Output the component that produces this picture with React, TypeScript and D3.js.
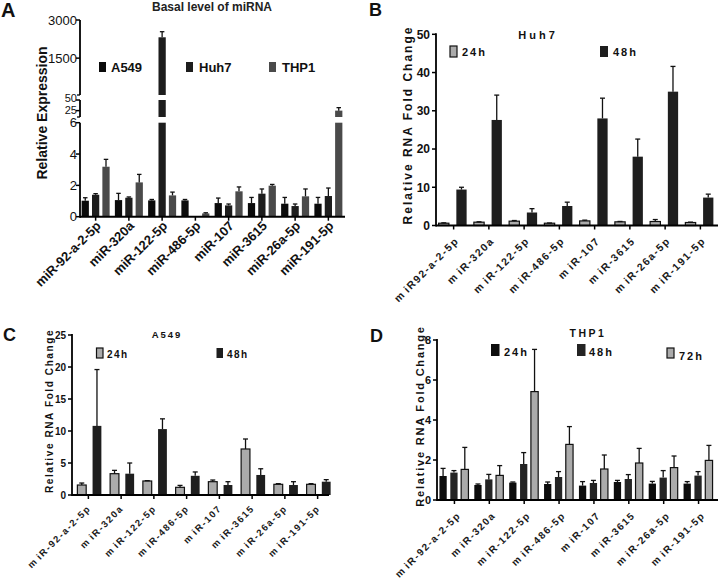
import React from 'react';
import * as d3 from 'd3';

const FONT = '"Liberation Sans", Arial, Helvetica, sans-serif';

// ---------- Panel A: basal level ----------
const basalCategories = ['miR-92-a-2-5p', 'miR-320a', 'miR-122-5p', 'miR-486-5p', 'miR-107', 'miR-3615', 'miR-26a-5p', 'miR-191-5p'];
const basalSeriesNames = ['A549', 'Huh7', 'THP1'];
const basalA549 = [1.02, 1.06, 1.04, 1.04, 0.87, 0.87, 0.83, 0.83];
const basalA549Err = [0.19, 0.43, 0.06, 0.06, 0.32, 0.36, 0.4, 0.4];
const basalHuh7 = [1.4, 1.21, 2320, 0.02, 0.72, 1.47, 0.68, 1.32];
const basalHuh7Err = [0.07, 0.05, 220, 0, 0.09, 0.3, 0.13, 0.51];
const basalTHP1 = [3.19, 2.19, 1.36, 0.21, 1.62, 1.98, 1.3, 25];
const basalTHP1Err = [0.47, 0.51, 0.21, 0.04, 0.28, 0.08, 0.47, 7];
const basalTicksLow = [0, 2, 4, 6];
const basalTicksMid = [25, 50];
const basalTicksTop = [1500, 3000];
const basalDomLow = [0, 6];
const basalDomMid = [10, 50];
const basalDomTop = [50, 3000];

// ---------- Panel B: Huh7 ----------
const huh7Categories = ['m iR92-a-2-5p', 'm iR-320a', 'm iR-122-5p', 'm iR-486-5p', 'm iR-107', 'm iR-3615', 'm iR-26a-5p', 'm iR-191-5p'];
const huh7Series = ['24h', '48h'];
const huh7H24 = [0.6, 0.87, 1.13, 0.6, 1.2, 0.96, 1.04, 0.78];
const huh7H24Err = [0.1, 0.1, 0.17, 0.05, 0.2, 0.1, 0.52, 0.1];
const huh7H48 = [9.4, 27.6, 3.4, 5.1, 28.0, 18.0, 35.0, 7.3];
const huh7H48Err = [0.6, 6.5, 1.0, 1.0, 5.3, 4.6, 6.6, 0.9];
const huh7Ticks = [0, 10, 20, 30, 40, 50];

// ---------- Panel C: A549 ----------
const a549Categories = ['m iR-92-a-2-5p', 'm iR-320a', 'm iR-122-5p', 'm iR-486-5p', 'm iR-107', 'm iR-3615', 'm iR-26a-5p', 'm iR-191-5p'];
const a549Series = ['24h', '48h'];
const a549H24 = [1.56, 3.33, 2.19, 1.2, 2.08, 7.19, 1.67, 1.67];
const a549H24Err = [0.31, 0.52, 0.05, 0.3, 0.26, 1.56, 0.1, 0.1];
const a549H48 = [10.8, 3.33, 10.3, 3.0, 1.56, 3.13, 1.56, 2.08];
const a549H48Err = [8.8, 1.67, 1.6, 0.6, 0.52, 0.97, 0.52, 0.32];
const a549Ticks = [0, 5, 10, 15, 20, 25];

// ---------- Panel D: THP1 ----------
const thp1Categories = ['m iR-92-a-2-5p', 'm iR-320a', 'm iR-122-5p', 'm iR-486-5p', 'm iR-107', 'm iR-3615', 'm iR-26a-5p', 'm iR-191-5p'];
const thp1Series = ['24h', '48h', '72h'];
const thp1H24 = [1.2, 0.75, 0.87, 0.8, 0.72, 0.9, 0.82, 0.82];
const thp1H24Err = [0.38, 0.05, 0.03, 0.1, 0.2, 0.08, 0.11, 0.1];
const thp1H48 = [1.37, 1.03, 1.8, 1.15, 0.85, 1.05, 1.12, 1.22];
const thp1H48Err = [0.1, 0.25, 0.57, 0.27, 0.13, 0.22, 0.35, 0.2];
const thp1H72 = [1.53, 1.23, 5.42, 2.78, 1.55, 1.85, 1.62, 1.98];
const thp1H72Err = [1.1, 0.49, 2.11, 0.89, 0.7, 0.73, 0.58, 0.75];
const thp1Ticks = [0, 2, 4, 6, 8];

type Series = { name: string; values: number[]; errs: number[]; fill: string; stroke?: string };

function ErrorBar({ x, y0, y1, cap = 5 }: { x: number; y0: number; y1: number; cap?: number }) {
  return (
    <g stroke="#111" strokeWidth={1.3}>
      <line x1={x} x2={x} y1={y0} y2={y1} />
      <line x1={x - cap / 2} x2={x + cap / 2} y1={y1} y2={y1} />
    </g>
  );
}

type GroupedProps = {
  cats: string[];
  series: Series[];
  xRange: [number, number];
  axisEnd: number;
  yDomain: [number, number];
  yRange: [number, number];
  ticks: number[];
  subRange: [number, number];
  subPadding: number;
  tickFont: number;
  labelFont: number;
  labelSpacing: number;
  labelDx: number;
  labelDy: number;
};

function GroupedPanel(p: GroupedProps) {
  const x = d3.scaleBand<string>().domain(p.cats).range(p.xRange);
  const sub = d3.scaleBand<string>().domain(p.series.map((s) => s.name)).range(p.subRange).paddingInner(p.subPadding);
  const y = d3.scaleLinear().domain(p.yDomain).range(p.yRange);
  const ax = p.xRange[0];
  const y0 = y(0);
  return (
    <g fontFamily={FONT}>
      {p.cats.map((c, i) => {
        const cx = (x(c) as number) + x.bandwidth() / 2;
        return (
          <g key={c}>
            {p.series.map((s) => {
              const bx = cx + (sub(s.name) as number);
              const v = s.values[i];
              return (
                <g key={s.name}>
                  <rect x={bx} y={y(v)} width={sub.bandwidth()} height={Math.max(0.5, y0 - y(v))} fill={s.fill}
                    stroke={s.stroke || 'none'} strokeWidth={s.stroke ? 1.2 : 0} />
                  <ErrorBar x={bx + sub.bandwidth() / 2} y0={y(v)} y1={y(v + s.errs[i])} />
                </g>
              );
            })}
            <line x1={cx} x2={cx} y1={y0} y2={y0 + 4} stroke="#000" strokeWidth={1.5} />
            <text transform={`translate(${cx + p.labelDx},${y0 + p.labelDy}) rotate(-45)`} textAnchor="end"
              fontSize={p.labelFont} fontWeight="bold" letterSpacing={p.labelSpacing} wordSpacing={-1.8} fill="#1a1a1a">{c}</text>
          </g>
        );
      })}
      <line x1={ax} x2={ax} y1={y0 + 1} y2={p.yRange[1] - 1} stroke="#000" strokeWidth={1.8} />
      <line x1={ax} x2={p.axisEnd} y1={y0} y2={y0} stroke="#000" strokeWidth={2} />
      {p.ticks.map((t) => (
        <g key={t}>
          <line x1={ax - 4} x2={ax} y1={y(t)} y2={y(t)} stroke="#000" strokeWidth={1.5} />
          <text x={ax - 6} y={y(t)} dy="0.36em" textAnchor="end" fontSize={p.tickFont} fontWeight="bold" fill="#111">{t}</text>
        </g>
      ))}
    </g>
  );
}

function LegendItem({ x, y, w, h, fill, stroke, label, tx, ty, size, spacing }: any) {
  return (
    <g fontFamily={FONT}>
      <rect x={x} y={y} width={w} height={h} fill={fill} stroke={stroke || 'none'} strokeWidth={stroke ? 1.2 : 0} />
      <text x={tx} y={ty} fontSize={size} fontWeight="bold" letterSpacing={spacing} fill="#111">{label}</text>
    </g>
  );
}

function BasalPanel() {
  const x = d3.scaleBand<string>().domain(basalCategories).range([79, 345]);
  const sub = d3.scaleBand<string>().domain(basalSeriesNames).range([-14, 14]).paddingInner(0.3);
  const segs = [
    { scale: d3.scaleLinear().domain(basalDomLow).range([216.7, 122.7]), ticks: basalTicksLow },
    { scale: d3.scaleLinear().domain(basalDomMid).range([117, 100]), ticks: basalTicksMid },
    { scale: d3.scaleLinear().domain(basalDomTop).range([95, 20]), ticks: basalTicksTop },
  ];
  const series = [
    { name: 'A549', values: basalA549, errs: basalA549Err, fill: '#0b0b0b' },
    { name: 'Huh7', values: basalHuh7, errs: basalHuh7Err, fill: '#1d1d1d' },
    { name: 'THP1', values: basalTHP1, errs: basalTHP1Err, fill: '#4a4a4a' },
  ];
  const ax = 80;
  const y0 = segs[0].scale(0);
  return (
    <g fontFamily={FONT}>
      {basalCategories.map((c, i) => {
        const cx = (x(c) as number) + x.bandwidth() / 2;
        return (
          <g key={c}>
            {series.map((s) => {
              const bx = cx + (sub(s.name) as number);
              const v = s.values[i];
              const top = v + s.errs[i];
              const rects = segs.map((sg, k) => {
                const [lo, hi] = sg.scale.domain();
                if (v <= lo && k > 0) return null;
                const yt = sg.scale(Math.min(v, hi));
                const yb = sg.scale(lo);
                return <rect key={k} x={bx} y={yt} width={sub.bandwidth()} height={Math.max(0.6, yb - yt)} fill={s.fill} />;
              });
              const seg = segs.find((sg) => top <= sg.scale.domain()[1]) || segs[2];
              return (
                <g key={s.name}>
                  {rects}
                  {s.errs[i] > 0 && <ErrorBar x={bx + sub.bandwidth() / 2} y0={seg.scale(v)} y1={seg.scale(top)} cap={4.5} />}
                </g>
              );
            })}
            <line x1={cx} x2={cx} y1={y0} y2={y0 + 4} stroke="#000" strokeWidth={1.5} />
            <text transform={`translate(${cx + 6},${y0 + 10}) rotate(-45)`} textAnchor="end" fontSize={13} fontWeight="bold" fill="#111">{c}</text>
          </g>
        );
      })}
      {segs.map((sg, k) => {
        const r = sg.scale.range();
        return (
          <g key={k}>
            <line x1={ax} x2={ax} y1={r[0] + (k === 0 ? 1 : 0)} y2={r[1]} stroke="#000" strokeWidth={1.8} />
            {k > 0 && <line x1={ax - 3} x2={ax} y1={r[0]} y2={r[0]} stroke="#000" strokeWidth={1.3} />}
            {sg.ticks.map((t) => (
              <g key={t}>
                <line x1={ax - 4} x2={ax} y1={sg.scale(t)} y2={sg.scale(t)} stroke="#000" strokeWidth={1.5} />
                <text x={ax - 3} y={sg.scale(t) + (k === 1 ? (t === 50 ? -1.5 : -0.5) : 0)} dy="0.36em" textAnchor="end"
                  fontSize={k === 1 ? 11 : 13} fill="#111">{t}</text>
              </g>
            ))}
          </g>
        );
      })}
      <line x1={ax} x2={345} y1={y0} y2={y0} stroke="#000" strokeWidth={2} />
      <text x={212} y={11} textAnchor="middle" fontSize={12} fontWeight="bold" fill="#222">Basal level of miRNA</text>
      <text transform="translate(47,113) rotate(-90)" textAnchor="middle" fontSize={14} fontWeight="bold" fill="#111">Relative Expression</text>
      <LegendItem x={99} y={62} w={7} h={10} fill="#0b0b0b" label="A549" tx={111} ty={71.5} size={13} spacing={0} />
      <LegendItem x={186} y={62} w={7} h={10} fill="#1d1d1d" label="Huh7" tx={199} ty={71.5} size={13} spacing={0} />
      <LegendItem x={269} y={62} w={7} h={10} fill="#4a4a4a" label="THP1" tx={282} ty={71.5} size={13} spacing={0} />
    </g>
  );
}

export default function App() {
  const light = '#ababab';
  return (
    <svg width={720} height={579} viewBox="0 0 720 579" style={{ position: 'absolute', left: 0, top: 0, background: '#fff' }}>
      <rect width={720} height={579} fill="#fff" />
      {/* Panel letters */}
      <g fontFamily={FONT} fontWeight="bold" fill="#111">
        <text x={1} y={17} fontSize={20}>A</text>
        <text x={369} y={16} fontSize={18}>B</text>
        <text x={3} y={341} fontSize={18}>C</text>
        <text x={370} y={342} fontSize={18}>D</text>
      </g>

      <BasalPanel />

      {/* Panel B */}
      <GroupedPanel cats={huh7Categories}
        series={[
          { name: huh7Series[0], values: huh7H24, errs: huh7H24Err, fill: light, stroke: '#111' },
          { name: huh7Series[1], values: huh7H48, errs: huh7H48Err, fill: '#1e1e1e' },
        ]}
        xRange={[436, 718]} axisEnd={718} yDomain={[0, 50]} yRange={[225.5, 34.3]} ticks={huh7Ticks}
        subRange={[-15, 13]} subPadding={0.42} tickFont={12} labelFont={10.5} labelSpacing={1.5} labelDx={6} labelDy={16} />
      <g fontFamily={FONT} fill="#111" fontWeight="bold">
        <text x={538} y={39} textAnchor="middle" fontSize={11} letterSpacing={3}>Huh7</text>
        <text transform="translate(412,125) rotate(-90)" textAnchor="middle" fontSize={12} letterSpacing={2}>Relative RNA Fold Change</text>
      </g>
      <LegendItem x={450} y={46} w={7} h={11} fill={light} stroke="#111" label="24h" tx={462} ty={56} size={11} spacing={2} />
      <LegendItem x={600} y={46} w={8} h={11} fill="#1e1e1e" label="48h" tx={613} ty={56} size={11} spacing={2} />

      {/* Panel C */}
      <GroupedPanel cats={a549Categories}
        series={[
          { name: a549Series[0], values: a549H24, errs: a549H24Err, fill: light, stroke: '#111' },
          { name: a549Series[1], values: a549H48, errs: a549H48Err, fill: '#1e1e1e' },
        ]}
        xRange={[72, 334]} axisEnd={329} yDomain={[0, 25]} yRange={[495, 335]} ticks={a549Ticks}
        subRange={[-11, 13]} subPadding={0.42} tickFont={10} labelFont={9.5} labelSpacing={1.5} labelDx={3} labelDy={14} />
      <g fontFamily={FONT} fill="#111" fontWeight="bold">
        <text x={167} y={338} textAnchor="middle" fontSize={9.5} letterSpacing={2}>A549</text>
        <text transform="translate(53,411) rotate(-90)" textAnchor="middle" fontSize={10} letterSpacing={1.6}>Relative RNA Fold Change</text>
      </g>
      <LegendItem x={96.5} y={348} w={6.5} h={10} fill={light} stroke="#111" label="24h" tx={107} ty={357.5} size={10} spacing={1.5} />
      <LegendItem x={216.5} y={348} w={6.5} h={10} fill="#1e1e1e" label="48h" tx={227} ty={357.5} size={10} spacing={1.5} />

      {/* Panel D */}
      <GroupedPanel cats={thp1Categories}
        series={[
          { name: thp1Series[0], values: thp1H24, errs: thp1H24Err, fill: '#0d0d0d' },
          { name: thp1Series[1], values: thp1H48, errs: thp1H48Err, fill: '#242424' },
          { name: thp1Series[2], values: thp1H72, errs: thp1H72Err, fill: light, stroke: '#111' },
        ]}
        xRange={[437, 716]} axisEnd={718} yDomain={[0, 8]} yRange={[500, 340]} ticks={thp1Ticks}
        subRange={[-15, 14]} subPadding={0.33} tickFont={11} labelFont={10} labelSpacing={1.5} labelDx={7} labelDy={16} />
      <g fontFamily={FONT} fill="#111" fontWeight="bold">
        <text x={588} y={337} textAnchor="middle" fontSize={10.5} letterSpacing={2.5}>THP1</text>
        <text transform="translate(424,416) rotate(-90)" textAnchor="middle" fontSize={11} letterSpacing={1.8}>Relative RNA Fold Change</text>
      </g>
      <LegendItem x={491} y={344} w={8.5} h={12} fill="#0d0d0d" label="24h" tx={504} ty={356} size={11} spacing={2} />
      <LegendItem x={577} y={344} w={8.5} h={12} fill="#242424" label="48h" tx={589} ty={356} size={11} spacing={2} />
      <LegendItem x={667} y={348} w={7} h={10} fill={light} stroke="#111" label="72h" tx={679} ty={360} size={11} spacing={2} />
    </svg>
  );
}
